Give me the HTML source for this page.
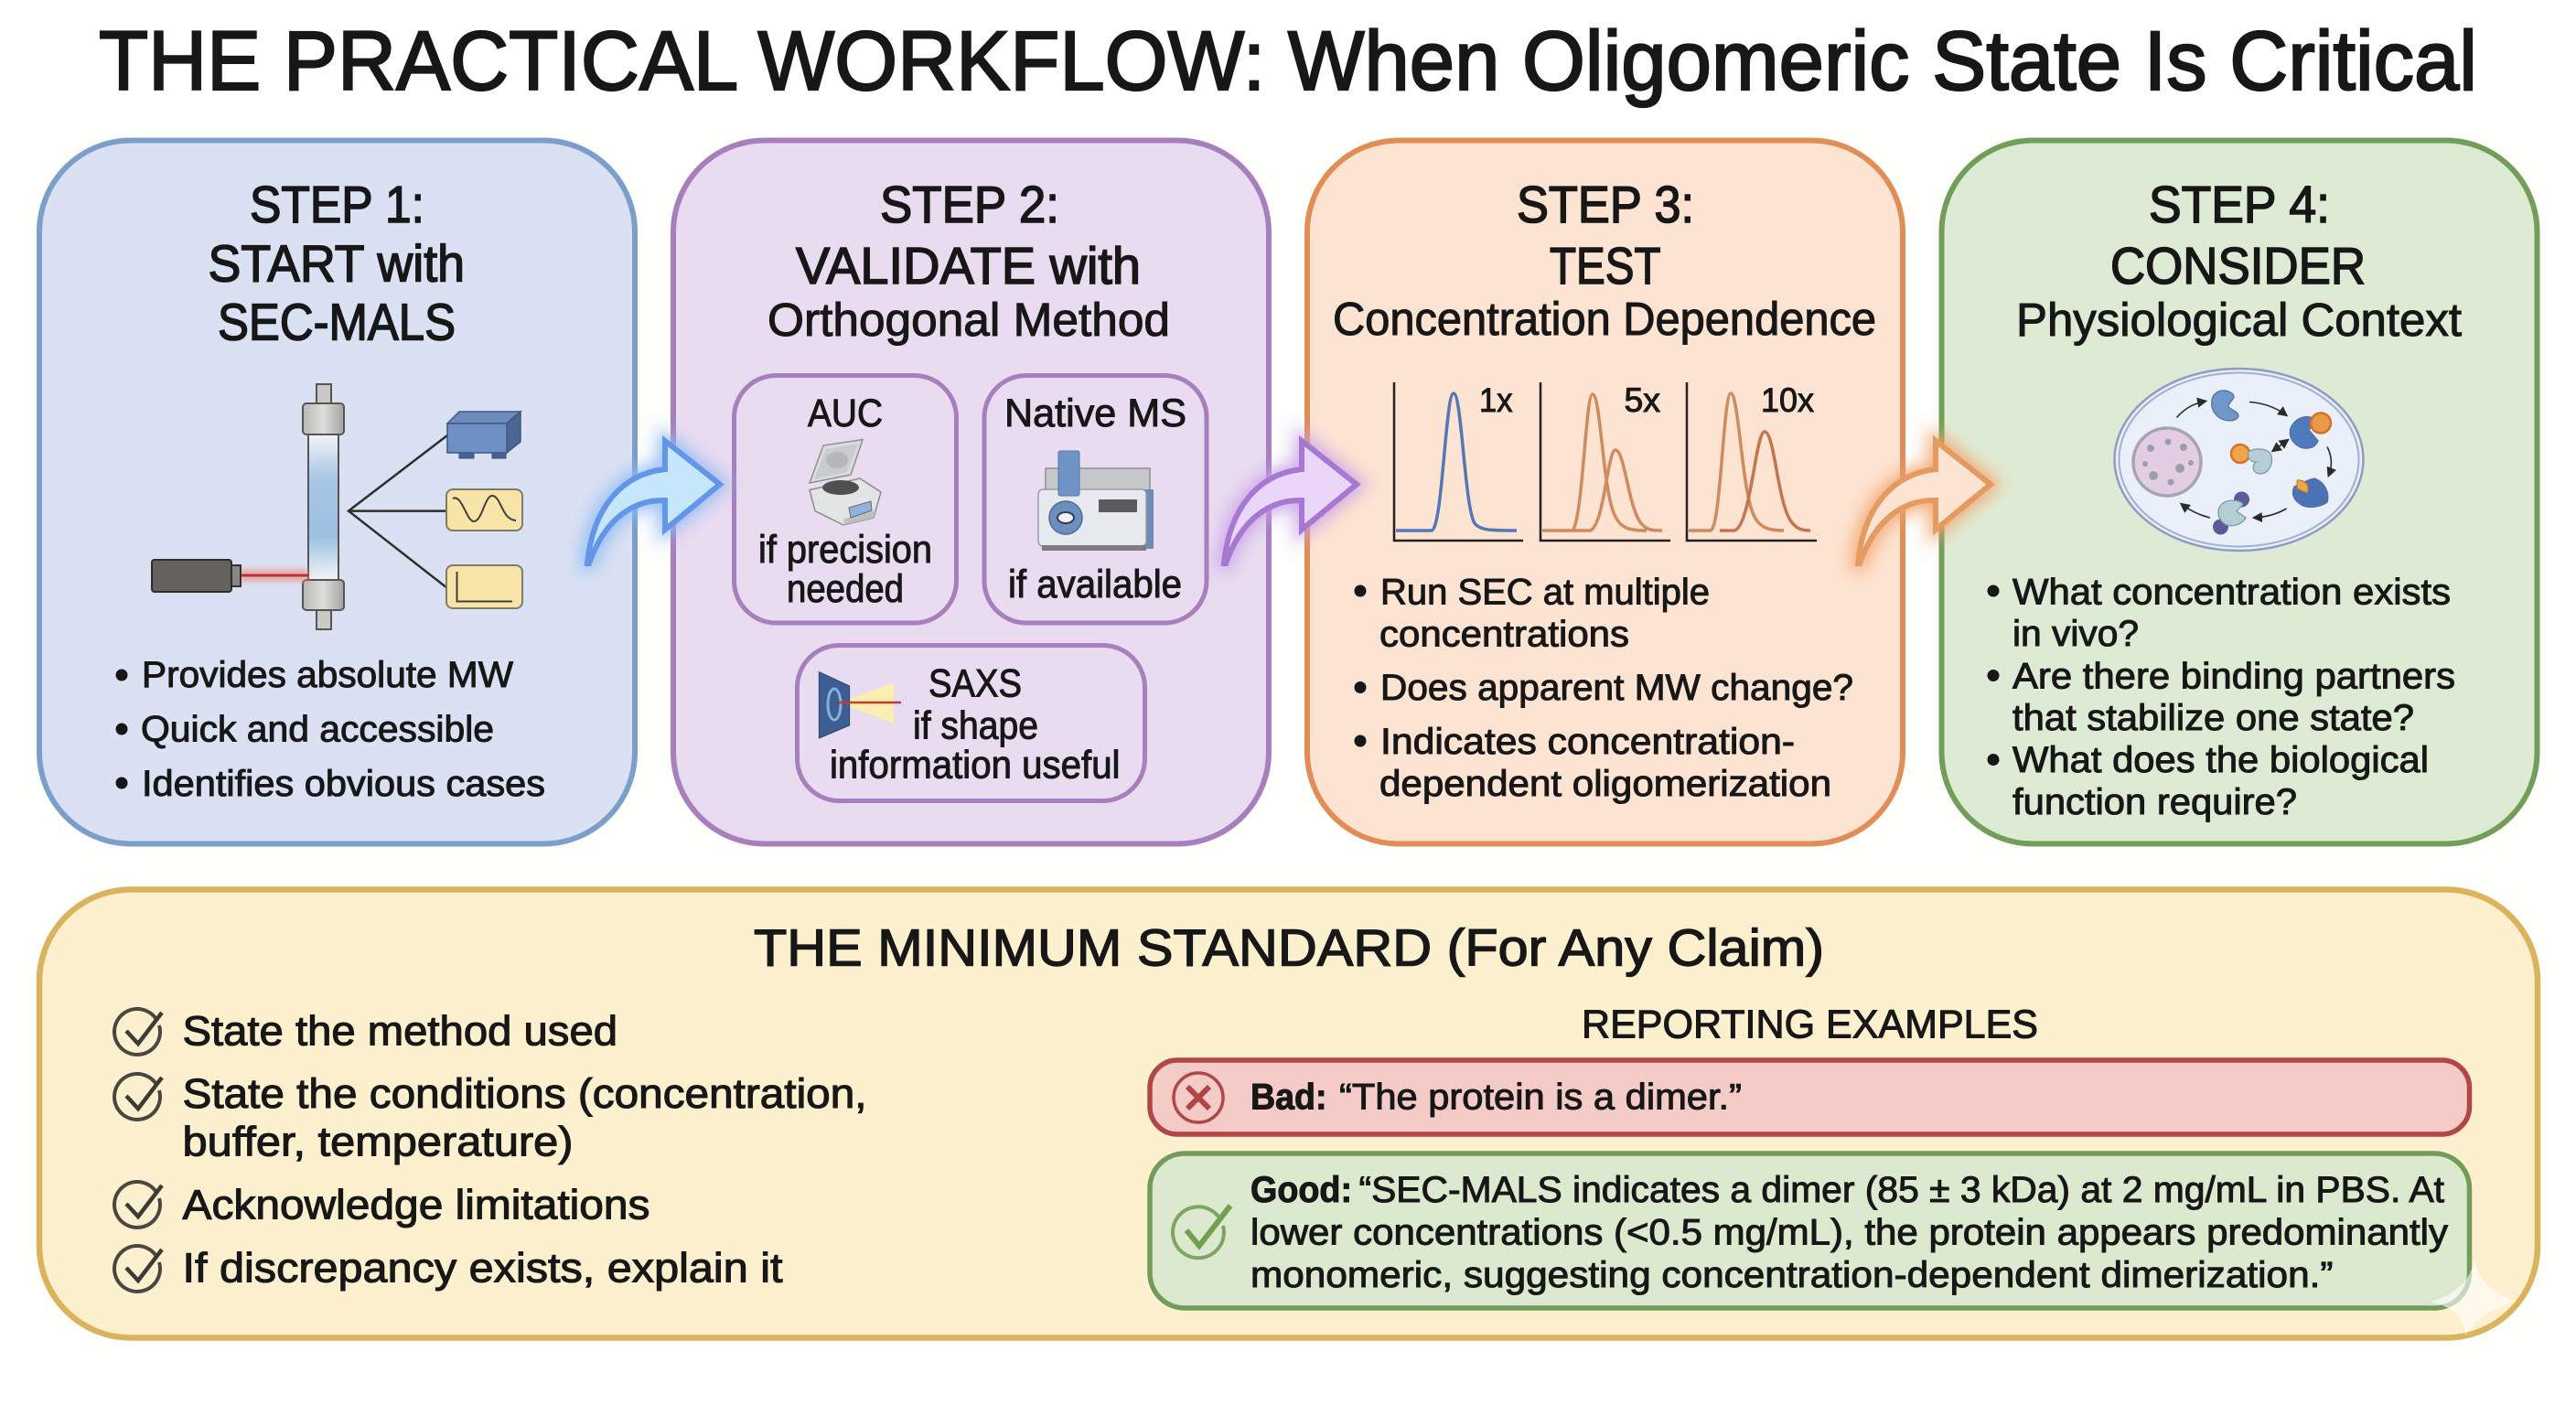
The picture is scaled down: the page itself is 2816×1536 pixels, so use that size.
<!DOCTYPE html>
<html lang="en"><head><meta charset="utf-8"><title>The Practical Workflow</title>
<style>
html,body{margin:0;padding:0;background:#fefefd}
svg{display:block}
text{font-family:"Liberation Sans",sans-serif;fill:#171717;stroke:#171717;stroke-width:1px;paint-order:stroke}
.h1{font-size:92px;stroke-width:2.2px}
.h{font-size:57px;stroke-width:1.6px}
.s{font-size:51px;stroke-width:1.1px}
.b{font-size:40px}
.m{font-size:43px}
.l{font-size:37px}
.t{font-size:57px;stroke-width:1.4px}
.i{font-size:45px;stroke-width:1.1px}
.r{font-size:44px;stroke-width:1.1px}
.e{font-size:40px}
.bold{font-weight:bold}
</style></head><body>
<svg width="2816" height="1536" viewBox="0 0 2816 1536" xmlns="http://www.w3.org/2000/svg">
<defs>
<filter id="g" x="-30%" y="-30%" width="160%" height="160%"><feGaussianBlur stdDeviation="9"/></filter>
<filter id="g2" x="-30%" y="-30%" width="160%" height="160%"><feGaussianBlur stdDeviation="3"/></filter>
<linearGradient id="col" x1="0" y1="0" x2="0" y2="1"><stop offset="0" stop-color="#f2f4f8"/><stop offset=".3" stop-color="#a9c6e4"/><stop offset=".7" stop-color="#9cc0e2"/><stop offset="1" stop-color="#f2f4f8"/></linearGradient>
<linearGradient id="cap" x1="0" y1="0" x2="1" y2="0"><stop offset="0" stop-color="#b9b9b6"/><stop offset=".5" stop-color="#dcdcd9"/><stop offset="1" stop-color="#a5a5a0"/></linearGradient>
<marker id="ah" viewBox="0 0 10 10" refX="8" refY="5" markerWidth="7" markerHeight="7" orient="auto-start-reverse"><path d="M0,0 L10,5 L0,10 Z" fill="#2a2a2a"/></marker>
<path id="arr" d="M642,616 C648,555 680,518 727,513 L727,482 L787,529.5 L727,579 L727,547 C690,546 660,570 644,616 Z"/>
<g id="chk" fill="none"><path d="M170,1113 A25,25 0 1 0 174,1121" stroke="#4a4740" stroke-width="4"/><path d="M138,1127 L151,1141 L177,1107" stroke="#3c3a34" stroke-width="4.5"/></g>
</defs>
<rect width="2816" height="1536" fill="#fefefd"/>

<text class="h1" x="108" y="98" textLength="2600" lengthAdjust="spacingAndGlyphs">THE PRACTICAL WORKFLOW: When Oligomeric State Is Critical</text>

<!-- cards -->
<rect x="43" y="153.5" width="651" height="769" rx="100" fill="#d9e1f2" stroke="#7c9ecb" stroke-width="6"/>
<rect x="736" y="153.5" width="651" height="769" rx="100" fill="#e9dbf0" stroke="#a67fbc" stroke-width="6"/>
<rect x="1429" y="153.5" width="651" height="769" rx="100" fill="#fde3d1" stroke="#e08e55" stroke-width="6"/>
<rect x="2122.5" y="153.5" width="651" height="769" rx="100" fill="#deebd4" stroke="#729e5a" stroke-width="6"/>
<rect x="43" y="972.5" width="2731" height="490" rx="100" fill="#fdf0cf" stroke="#dbb35c" stroke-width="6.5"/>

<!-- step 1 -->
<text class="h" x="273" y="243" textLength="191" lengthAdjust="spacingAndGlyphs">STEP 1:</text>
<text class="h" x="227.5" y="307.5" textLength="280.5" lengthAdjust="spacingAndGlyphs">START with</text>
<text class="h" x="238" y="371.5" textLength="260" lengthAdjust="spacingAndGlyphs">SEC-MALS</text>

<g stroke="#555" stroke-width="2">
<rect x="346" y="420" width="16" height="21" fill="#c9c9c6"/>
<rect x="346" y="667" width="16" height="21" fill="#c9c9c6"/>
<rect x="337" y="475" width="33" height="159" fill="url(#col)"/>
<rect x="331" y="441" width="45" height="34" rx="4" fill="url(#cap)"/>
<rect x="331" y="634" width="45" height="33" rx="4" fill="url(#cap)"/>
</g>
<rect x="262" y="622" width="75" height="14" fill="#f08a80" opacity=".6" filter="url(#g2)"/>
<rect x="262" y="627.5" width="75" height="3" fill="#b8342c"/>
<rect x="253" y="618" width="10" height="23" fill="#8a8783" stroke="#333" stroke-width="2"/>
<rect x="166" y="612" width="87" height="35" rx="3" fill="#65625e" stroke="#2e2e2e" stroke-width="2"/>
<path d="M489,476 L381,558.6 L489,643 M381,558.6 H489" fill="none" stroke="#2e2e2e" stroke-width="2.5"/>
<path d="M502,495 h16 v6 h-16 z M538,495 h15 v6 h-15 z" fill="#47608f" stroke="#3b4f78" stroke-width="1"/>
<path d="M489,463 L502,450 H569 L554,463 Z" fill="#6d8ab8" stroke="#3f5888" stroke-width="1.5"/>
<path d="M554,463 L569,450 V483 L554,495 Z" fill="#4c6592" stroke="#3f5888" stroke-width="1.5"/>
<rect x="489" y="463" width="65" height="32" fill="#6e90c2" stroke="#3f5888" stroke-width="1.5"/>
<rect x="488" y="535" width="83" height="45" rx="7" fill="#f9e4a8" stroke="#7f7b6c" stroke-width="2"/>
<path d="M495,545 C505,540 510,570 518,570 C527,570 530,542 538,542 C548,542 548,568 564,569" fill="none" stroke="#3f3f3f" stroke-width="2"/>
<rect x="488" y="618" width="83" height="47" rx="7" fill="#f9e4a8" stroke="#7f7b6c" stroke-width="2"/>
<path d="M499.5,625 V657.5 H560" fill="none" stroke="#3f3f3f" stroke-width="2"/>

<g fill="#171717"><circle cx="133" cy="738" r="6.5"/><circle cx="133" cy="797" r="6.5"/><circle cx="133" cy="856" r="6.5"/></g>
<text class="b" x="155" y="751" textLength="406" lengthAdjust="spacingAndGlyphs">Provides absolute MW</text>
<text class="b" x="154" y="810.5" textLength="386" lengthAdjust="spacingAndGlyphs">Quick and accessible</text>
<text class="b" x="155" y="870" textLength="441" lengthAdjust="spacingAndGlyphs">Identifies obvious cases</text>

<!-- step 2 -->
<text class="h" x="962" y="243" textLength="196" lengthAdjust="spacingAndGlyphs">STEP 2:</text>
<text class="h" x="870" y="310" textLength="377" lengthAdjust="spacingAndGlyphs">VALIDATE with</text>
<text class="s" x="839" y="367" textLength="440" lengthAdjust="spacingAndGlyphs">Orthogonal Method</text>

<rect x="802.5" y="410.5" width="243" height="270.5" rx="46" fill="none" stroke="#a67fbc" stroke-width="5"/>
<rect x="1076" y="410.5" width="243" height="270.5" rx="46" fill="none" stroke="#a67fbc" stroke-width="5"/>
<rect x="871.5" y="705.5" width="380" height="170" rx="46" fill="none" stroke="#a67fbc" stroke-width="5"/>
<text class="m" x="883" y="466" textLength="82" lengthAdjust="spacingAndGlyphs">AUC</text>
<text class="m" x="1098" y="466" textLength="199" lengthAdjust="spacingAndGlyphs">Native MS</text>
<text class="m" x="829" y="615" textLength="190" lengthAdjust="spacingAndGlyphs">if precision</text>
<text class="m" x="860" y="658" textLength="128" lengthAdjust="spacingAndGlyphs">needed</text>
<text class="m" x="1102" y="653" textLength="190" lengthAdjust="spacingAndGlyphs">if available</text>
<text class="m" x="1015" y="761.5" textLength="102" lengthAdjust="spacingAndGlyphs">SAXS</text>
<text class="m" x="998" y="807.5" textLength="137" lengthAdjust="spacingAndGlyphs">if shape</text>
<text class="m" x="907" y="850.5" textLength="317.5" lengthAdjust="spacingAndGlyphs">information useful</text>

<!-- centrifuge -->
<path d="M885,528 L900,487 L943,480.5 L930,519 Z" fill="#d9dbdc" stroke="#8e9194" stroke-width="1.5"/>
<path d="M890,524 L903,491 L938,485 L926,516 Z" fill="#c9ccce"/>
<ellipse cx="915" cy="503" rx="12" ry="9" fill="#b4b8bb"/>
<path d="M885,535.6 L940,523 L963,538 L955,566 L922,574 L891,558.6 Z" fill="#e3e5e5" stroke="#8a8c8c" stroke-width="1.5"/>
<path d="M922,574 L955,566 L957,558 L923,567 Z" fill="#bcbfc0"/>
<ellipse cx="919" cy="533" rx="20" ry="8" fill="#4f4f50"/>
<path d="M928,555 L952,548 L953,558 L930,566 Z" fill="#8fb3dc" stroke="#667" stroke-width="1"/>

<!-- native MS -->
<rect x="1143" y="512" width="114" height="26" fill="#c6c7c8" stroke="#8c8d8f" stroke-width="1.5"/>
<rect x="1251" y="535" width="10" height="65" fill="#6d8ab8"/>
<rect x="1135" y="535" width="118" height="62" rx="5" fill="#e6e9ee" stroke="#9a9da3" stroke-width="1.5"/>
<rect x="1139" y="596" width="114" height="6" fill="#7b7d82"/>
<rect x="1157" y="493" width="23" height="49" rx="2" fill="#6e93c4" stroke="#587aa8" stroke-width="1"/>
<rect x="1201" y="546" width="42" height="14" fill="#5b5b5d"/>
<circle cx="1165" cy="566" r="18" fill="#6e8fbe" stroke="#4d6a98" stroke-width="1.5"/>
<ellipse cx="1165" cy="566" rx="9" ry="6" fill="#f2f2f2" stroke="#2e3e58" stroke-width="2"/>

<!-- saxs -->
<path d="M917,768 L977,747 V791 Z" fill="#fbeeb0"/>
<path d="M895.4,734.6 L928.6,750 V793 L895.4,807 Z" fill="#3d5e93" stroke="#2d456f" stroke-width="1"/>
<ellipse cx="912" cy="770" rx="7" ry="17" fill="none" stroke="#86b0de" stroke-width="3"/>
<path d="M917,768 H985" stroke="#c23c34" stroke-width="2.5"/>

<!-- step 3 -->
<text class="h" x="1658" y="243" textLength="194" lengthAdjust="spacingAndGlyphs">STEP 3:</text>
<text class="h" x="1694" y="310" textLength="121.5" lengthAdjust="spacingAndGlyphs">TEST</text>
<text class="s" x="1457" y="366" textLength="594" lengthAdjust="spacingAndGlyphs">Concentration Dependence</text>

<path d="M1524,418 V591 H1665 M1684,418 V591 H1826 M1844,418 V591 H1986" fill="none" stroke="#222" stroke-width="2.5"/>
<path d="M1526,580 H1565 C1577,578 1580,430 1589,430 C1598,430 1601,555 1612,572 C1618,580 1630,580 1658,580" fill="none" stroke="#5577b3" stroke-width="3.5"/>
<g fill="none" stroke="#cf8a60" stroke-width="3.5">
<path d="M1686,580 H1718 C1730,578 1733,431 1741,431 C1750,431 1752,540 1766,565 C1772,577 1780,580 1800,580"/>
<path d="M1715,580 H1738 C1754,575 1757,492 1766,492 C1776,492 1780,555 1794,572 C1800,580 1808,580 1817,580"/>
<path d="M1846,580 H1870 C1881,578 1884,430 1892,430 C1901,430 1904,540 1918,565 C1924,577 1934,580 1950,580"/>
<path d="M1880,580 H1896 C1914,575 1919,472 1929,472 C1940,472 1943,550 1958,570 C1964,579 1972,580 1979,580" stroke="#c4764f"/>
</g>
<text class="l" x="1617" y="450" textLength="36.5" lengthAdjust="spacingAndGlyphs">1x</text>
<text class="l" x="1775.5" y="450" textLength="39.5" lengthAdjust="spacingAndGlyphs">5x</text>
<text class="l" x="1925" y="450" textLength="58" lengthAdjust="spacingAndGlyphs">10x</text>

<g fill="#171717"><circle cx="1487" cy="646" r="6.5"/><circle cx="1487" cy="751.5" r="6.5"/><circle cx="1487" cy="810" r="6.5"/></g>
<text class="b" x="1509" y="660.5" textLength="360" lengthAdjust="spacingAndGlyphs">Run SEC at multiple</text>
<text class="b" x="1508" y="706.5" textLength="273" lengthAdjust="spacingAndGlyphs">concentrations</text>
<text class="b" x="1509" y="765" textLength="517" lengthAdjust="spacingAndGlyphs">Does apparent MW change?</text>
<text class="b" x="1509" y="824" textLength="453" lengthAdjust="spacingAndGlyphs">Indicates concentration-</text>
<text class="b" x="1508" y="870" textLength="494" lengthAdjust="spacingAndGlyphs">dependent oligomerization</text>

<!-- step 4 -->
<text class="h" x="2349" y="243" textLength="198" lengthAdjust="spacingAndGlyphs">STEP 4:</text>
<text class="h" x="2307" y="310" textLength="279" lengthAdjust="spacingAndGlyphs">CONSIDER</text>
<text class="s" x="2204" y="367" textLength="487" lengthAdjust="spacingAndGlyphs">Physiological Context</text>

<ellipse cx="2447.5" cy="502.5" rx="136" ry="99.5" fill="#e9f0fa" stroke="#8d9cc5" stroke-width="2.5"/>
<ellipse cx="2447.5" cy="502.5" rx="131" ry="95" fill="none" stroke="#a3aed0" stroke-width="2"/>
<circle cx="2369" cy="505" r="37" fill="#e3cde3" stroke="#a8a3b2" stroke-width="3.5"/>
<g fill="#9a9fa8"><circle cx="2351" cy="490" r="4"/><circle cx="2370" cy="483" r="3.5"/><circle cx="2387" cy="489" r="4"/><circle cx="2395" cy="506" r="3"/><circle cx="2354" cy="520" r="5"/><circle cx="2383" cy="512" r="5"/><circle cx="2373" cy="527" r="3.5"/><circle cx="2345" cy="507" r="3"/></g>
<g stroke="#4f6f9e" stroke-width="1.2">
<path d="M2418,437 C2420,426 2434,424 2441,431 C2445,435 2436,440 2436,444 C2437,448 2447,449 2447,455 C2445,462 2430,461 2424,455 C2418,449 2417,444 2418,437 Z" fill="#6e98cb"/>
<path d="M2504,468 C2510,455 2525,452 2532,460 L2524,470 L2534,482 C2530,492 2517,492 2510,486 C2504,481 2502,475 2504,468 Z" fill="#4f7bbd"/>
<path d="M2508,532 C2516,528 2522,525 2530,523 C2542,527 2547,540 2544,549 C2536,555 2520,557 2513,550 C2506,545 2505,538 2508,532 Z" fill="#4a72b5"/>
</g>
<circle cx="2537" cy="462.5" r="11" fill="#e99a44" stroke="#d96f2c" stroke-width="2.5"/>
<circle cx="2449" cy="496" r="10" fill="#eda649" stroke="#d96f2c" stroke-width="2.5"/>
<path d="M2511,525 C2519,524 2526,530 2522,539 L2511,534 Z" fill="#eda649" stroke="#b87830" stroke-width="1"/>
<circle cx="2450.5" cy="546" r="8.5" fill="#5a5c9a"/>
<circle cx="2427.5" cy="576" r="8.5" fill="#5a5c9a"/>
<g stroke="#7f9aa5" stroke-width="1.3" fill="#b3ced4">
<path d="M2458,494 C2466,489 2480,490 2483,498 C2485,508 2480,518 2470,518 C2463,517 2461,510 2466,505 C2460,505 2456,500 2458,494 Z"/>
<path d="M2427,553 C2433,545 2447,546 2452,551 L2445,559 L2455,566 C2450,575 2437,577 2431,572 C2425,567 2423,560 2427,553 Z"/>
</g>
<g fill="none" stroke="#2a2a2a" stroke-width="1.6">
<path d="M2379.5,456.5 Q2392,442 2411,438.5" marker-end="url(#ah)"/>
<path d="M2459,439.5 Q2482,441 2499.5,454" marker-end="url(#ah)"/>
<path d="M2544,488.5 Q2552,504 2545.5,520" marker-end="url(#ah)"/>
<path d="M2499.5,556 Q2484,565 2464,566" marker-end="url(#ah)"/>
<path d="M2416,566 Q2399,562 2384.5,551" marker-end="url(#ah)"/>
<path d="M2484.5,493 L2501,481" marker-start="url(#ah)" marker-end="url(#ah)"/>
</g>

<g fill="#171717"><circle cx="2179" cy="646" r="6.5"/><circle cx="2179" cy="738.5" r="6.5"/><circle cx="2179" cy="830.5" r="6.5"/></g>
<text class="b" x="2200" y="660.5" textLength="479" lengthAdjust="spacingAndGlyphs">What concentration exists</text>
<text class="b" x="2200" y="706" textLength="138" lengthAdjust="spacingAndGlyphs">in vivo?</text>
<text class="b" x="2200" y="752.5" textLength="484" lengthAdjust="spacingAndGlyphs">Are there binding partners</text>
<text class="b" x="2200" y="798" textLength="439" lengthAdjust="spacingAndGlyphs">that stabilize one state?</text>
<text class="b" x="2200" y="844" textLength="455" lengthAdjust="spacingAndGlyphs">What does the biological</text>
<text class="b" x="2200" y="890" textLength="311" lengthAdjust="spacingAndGlyphs">function require?</text>

<!-- arrows -->
<use href="#arr" fill="#8fbaf5" stroke="#8fbaf5" stroke-width="16" filter="url(#g)" opacity=".9"/>
<use href="#arr" fill="#c5e6fb" stroke="#6396e8" stroke-width="6" stroke-linejoin="miter"/>
<g transform="translate(696 0)">
<use href="#arr" fill="#c9a2e8" stroke="#c9a2e8" stroke-width="16" filter="url(#g)" opacity=".9"/>
<use href="#arr" fill="#e9d6f8" stroke="#a678d2" stroke-width="6"/>
</g>
<g transform="translate(1389 0)">
<use href="#arr" fill="#f3a46c" stroke="#f3a46c" stroke-width="16" filter="url(#g)" opacity=".9"/>
<use href="#arr" fill="#fde3d1" stroke="#e59a62" stroke-width="6"/>
</g>

<!-- bottom -->
<text class="t" x="824" y="1055.5" textLength="1170" lengthAdjust="spacingAndGlyphs">THE MINIMUM STANDARD (For Any Claim)</text>
<use href="#chk"/>
<use href="#chk" y="71"/>
<use href="#chk" y="189"/>
<use href="#chk" y="259"/>
<text class="i" x="199.5" y="1142.5" textLength="475.5" lengthAdjust="spacingAndGlyphs">State the method used</text>
<text class="i" x="199.5" y="1211" textLength="748" lengthAdjust="spacingAndGlyphs">State the conditions (concentration,</text>
<text class="i" x="199.5" y="1263.5" textLength="427" lengthAdjust="spacingAndGlyphs">buffer, temperature)</text>
<text class="i" x="199.5" y="1332.5" textLength="511" lengthAdjust="spacingAndGlyphs">Acknowledge limitations</text>
<text class="i" x="199.5" y="1401.5" textLength="656" lengthAdjust="spacingAndGlyphs">If discrepancy exists, explain it</text>

<text class="r" x="1729" y="1134.5" textLength="499" lengthAdjust="spacingAndGlyphs">REPORTING EXAMPLES</text>
<rect x="1257" y="1159" width="1442.5" height="81" rx="30" fill="#f5cbc8" stroke="#b04645" stroke-width="5.5"/>
<rect x="1257" y="1261" width="1442.5" height="169" rx="38" fill="#dbeacf" stroke="#739c5a" stroke-width="5.5"/>
<circle cx="1310" cy="1200" r="27" fill="none" stroke="#b04645" stroke-width="3.5"/>
<path d="M1298,1188 L1322,1212 M1322,1188 L1298,1212" stroke="#b04645" stroke-width="6"/>
<text class="e bold" x="1367" y="1212.5" textLength="83.5" lengthAdjust="spacingAndGlyphs">Bad:</text>
<text class="e" x="1464" y="1212.5" textLength="440" lengthAdjust="spacingAndGlyphs">“The protein is a dimer.”</text>
<path d="M1332,1330 A28,28 0 1 0 1337,1340" fill="none" stroke="#7fa566" stroke-width="4"/>
<path d="M1297,1345 L1311,1362 L1345,1318" fill="none" stroke="#72a050" stroke-width="6"/>
<text class="e bold" x="1367" y="1314" textLength="111" lengthAdjust="spacingAndGlyphs">Good:</text>
<text class="e" x="1485.5" y="1314" textLength="1186.5" lengthAdjust="spacingAndGlyphs">“SEC-MALS indicates a dimer (85 ± 3 kDa) at 2 mg/mL in PBS. At</text>
<text class="e" x="1367" y="1360.5" textLength="1309" lengthAdjust="spacingAndGlyphs">lower concentrations (&lt;0.5 mg/mL), the protein appears predominantly</text>
<text class="e" x="1367" y="1407" textLength="1183.5" lengthAdjust="spacingAndGlyphs">monomeric, suggesting concentration-dependent dimerization.”</text>

<path d="M2705,1377 Q2710,1410 2751,1423 Q2712,1432 2695,1460 Q2695,1432 2657,1423 Q2698,1412 2705,1377 Z" fill="#fff" opacity=".6"/>
</svg>
</body></html>
